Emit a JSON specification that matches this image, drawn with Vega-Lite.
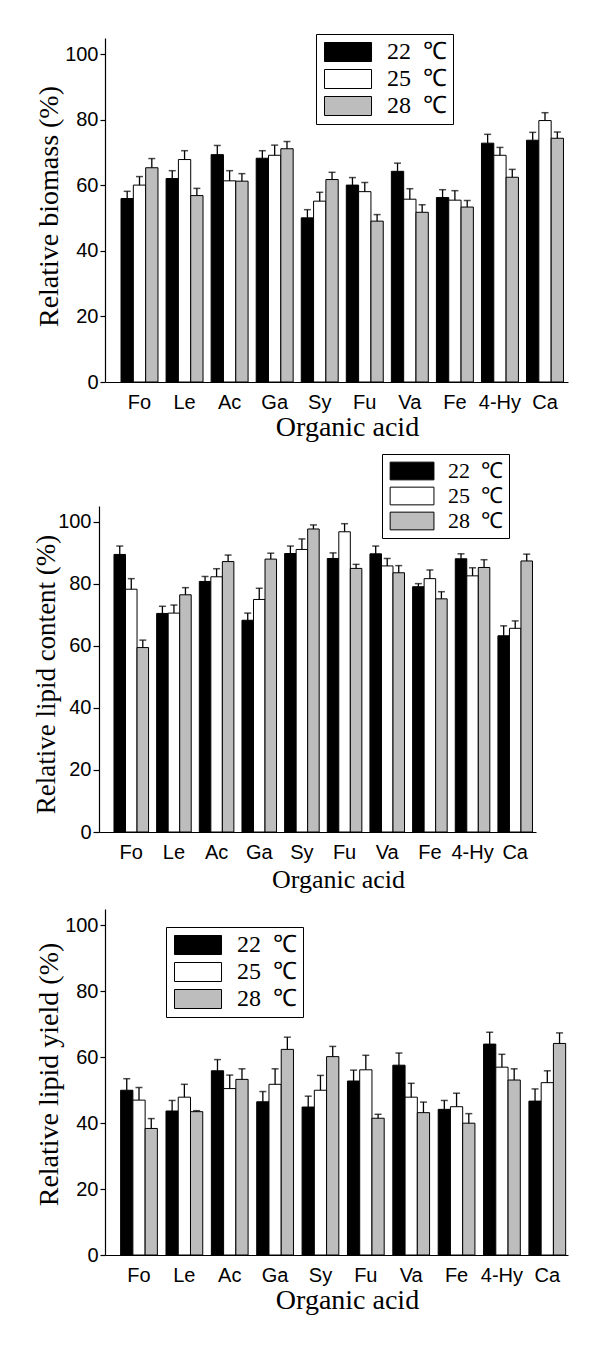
{
  "$schema": "https://vega.github.io/schema/vega-lite/v6.json",
  "padding": {"left": 32, "top": 33, "right": 5, "bottom": 5},
  "background": "white",
  "config": {
    "view": {"stroke": null},
    "axis": {"grid": false, "domainColor": "black", "domainWidth": 1.2, "tickColor": "black", "tickWidth": 1.2, "labelColor": "black", "titleColor": "black", "labelFont": "Liberation Sans", "labelFontSize": 20, "titleFont": "Liberation Serif", "titleFontWeight": "normal", "labelFlush": false, "labelOverlap": false},
    "legend": {"symbolStrokeColor": "black", "symbolStrokeWidth": 1, "symbolOpacity": 1, "labelFont": "Liberation Serif", "labelColor": "black", "strokeColor": "black", "fillColor": "white", "cornerRadius": 0}
  },
  "datasets": {
    "biomass": [
      {"acid": "Fo", "temp": "22", "value": 56.0, "upper": 58.2},
      {"acid": "Fo", "temp": "25", "value": 60.1, "upper": 62.7},
      {"acid": "Fo", "temp": "28", "value": 65.4, "upper": 68.2},
      {"acid": "Le", "temp": "22", "value": 62.1, "upper": 64.5},
      {"acid": "Le", "temp": "25", "value": 67.9, "upper": 70.6},
      {"acid": "Le", "temp": "28", "value": 56.9, "upper": 59.1},
      {"acid": "Ac", "temp": "22", "value": 69.4, "upper": 72.2},
      {"acid": "Ac", "temp": "25", "value": 61.4, "upper": 64.5},
      {"acid": "Ac", "temp": "28", "value": 61.3, "upper": 63.6},
      {"acid": "Ga", "temp": "22", "value": 68.3, "upper": 70.6},
      {"acid": "Ga", "temp": "25", "value": 69.2, "upper": 72.3},
      {"acid": "Ga", "temp": "28", "value": 71.2, "upper": 73.4},
      {"acid": "Sy", "temp": "22", "value": 50.1, "upper": 52.6},
      {"acid": "Sy", "temp": "25", "value": 55.2, "upper": 57.9},
      {"acid": "Sy", "temp": "28", "value": 61.8, "upper": 64.0},
      {"acid": "Fu", "temp": "22", "value": 60.1, "upper": 62.4},
      {"acid": "Fu", "temp": "25", "value": 58.1, "upper": 60.9},
      {"acid": "Fu", "temp": "28", "value": 49.1, "upper": 51.1},
      {"acid": "Va", "temp": "22", "value": 64.3, "upper": 66.8},
      {"acid": "Va", "temp": "25", "value": 55.8, "upper": 59.0},
      {"acid": "Va", "temp": "28", "value": 51.8, "upper": 54.1},
      {"acid": "Fe", "temp": "22", "value": 56.3, "upper": 58.7},
      {"acid": "Fe", "temp": "25", "value": 55.5, "upper": 58.4},
      {"acid": "Fe", "temp": "28", "value": 53.4, "upper": 55.4},
      {"acid": "4-Hy", "temp": "22", "value": 72.9, "upper": 75.6},
      {"acid": "4-Hy", "temp": "25", "value": 69.2, "upper": 71.6},
      {"acid": "4-Hy", "temp": "28", "value": 62.5, "upper": 64.9},
      {"acid": "Ca", "temp": "22", "value": 73.8, "upper": 76.2},
      {"acid": "Ca", "temp": "25", "value": 79.8, "upper": 82.2},
      {"acid": "Ca", "temp": "28", "value": 74.4, "upper": 76.3}
    ],
    "content": [
      {"acid": "Fo", "temp": "22", "value": 89.4, "upper": 92.1},
      {"acid": "Fo", "temp": "25", "value": 78.2, "upper": 81.6},
      {"acid": "Fo", "temp": "28", "value": 59.4, "upper": 61.8},
      {"acid": "Le", "temp": "22", "value": 70.4, "upper": 72.7},
      {"acid": "Le", "temp": "25", "value": 70.5, "upper": 73.1},
      {"acid": "Le", "temp": "28", "value": 76.4, "upper": 78.7},
      {"acid": "Ac", "temp": "22", "value": 80.7, "upper": 82.3},
      {"acid": "Ac", "temp": "25", "value": 82.2, "upper": 84.8},
      {"acid": "Ac", "temp": "28", "value": 87.1, "upper": 89.2},
      {"acid": "Ga", "temp": "22", "value": 68.2, "upper": 70.5},
      {"acid": "Ga", "temp": "25", "value": 74.9, "upper": 78.5},
      {"acid": "Ga", "temp": "28", "value": 87.9, "upper": 89.8},
      {"acid": "Sy", "temp": "22", "value": 89.7, "upper": 92.1},
      {"acid": "Sy", "temp": "25", "value": 91.0, "upper": 94.4},
      {"acid": "Sy", "temp": "28", "value": 97.6, "upper": 98.9},
      {"acid": "Fu", "temp": "22", "value": 88.1, "upper": 89.9},
      {"acid": "Fu", "temp": "25", "value": 96.7, "upper": 99.3},
      {"acid": "Fu", "temp": "28", "value": 84.9, "upper": 86.2},
      {"acid": "Va", "temp": "22", "value": 89.6, "upper": 92.1},
      {"acid": "Va", "temp": "25", "value": 85.7, "upper": 88.1},
      {"acid": "Va", "temp": "28", "value": 83.5, "upper": 85.8},
      {"acid": "Fe", "temp": "22", "value": 79.0, "upper": 80.0},
      {"acid": "Fe", "temp": "25", "value": 81.6, "upper": 84.4},
      {"acid": "Fe", "temp": "28", "value": 75.1, "upper": 77.4},
      {"acid": "4-Hy", "temp": "22", "value": 88.0, "upper": 89.6},
      {"acid": "4-Hy", "temp": "25", "value": 82.5, "upper": 85.1},
      {"acid": "4-Hy", "temp": "28", "value": 85.2, "upper": 87.7},
      {"acid": "Ca", "temp": "22", "value": 63.2, "upper": 66.4},
      {"acid": "Ca", "temp": "25", "value": 65.6, "upper": 68.0},
      {"acid": "Ca", "temp": "28", "value": 87.3, "upper": 89.5}
    ],
    "yield": [
      {"acid": "Fo", "temp": "22", "value": 50.0, "upper": 53.5},
      {"acid": "Fo", "temp": "25", "value": 47.0, "upper": 50.8},
      {"acid": "Fo", "temp": "28", "value": 38.4, "upper": 41.4},
      {"acid": "Le", "temp": "22", "value": 43.7, "upper": 46.9},
      {"acid": "Le", "temp": "25", "value": 47.9, "upper": 51.8},
      {"acid": "Le", "temp": "28", "value": 43.5, "upper": 43.8},
      {"acid": "Ac", "temp": "22", "value": 55.9, "upper": 59.3},
      {"acid": "Ac", "temp": "25", "value": 50.5, "upper": 54.6},
      {"acid": "Ac", "temp": "28", "value": 53.3, "upper": 56.5},
      {"acid": "Ga", "temp": "22", "value": 46.5, "upper": 49.6},
      {"acid": "Ga", "temp": "25", "value": 51.8, "upper": 56.5},
      {"acid": "Ga", "temp": "28", "value": 62.4, "upper": 66.1},
      {"acid": "Sy", "temp": "22", "value": 44.9, "upper": 48.2},
      {"acid": "Sy", "temp": "25", "value": 50.0, "upper": 54.5},
      {"acid": "Sy", "temp": "28", "value": 60.2, "upper": 63.3},
      {"acid": "Fu", "temp": "22", "value": 52.8, "upper": 56.1},
      {"acid": "Fu", "temp": "25", "value": 56.2, "upper": 60.6},
      {"acid": "Fu", "temp": "28", "value": 41.5, "upper": 42.7},
      {"acid": "Va", "temp": "22", "value": 57.6, "upper": 61.3},
      {"acid": "Va", "temp": "25", "value": 47.9, "upper": 52.1},
      {"acid": "Va", "temp": "28", "value": 43.2, "upper": 46.4},
      {"acid": "Fe", "temp": "22", "value": 44.2, "upper": 46.9},
      {"acid": "Fe", "temp": "25", "value": 45.0, "upper": 49.1},
      {"acid": "Fe", "temp": "28", "value": 40.0, "upper": 42.9},
      {"acid": "4-Hy", "temp": "22", "value": 64.0, "upper": 67.6},
      {"acid": "4-Hy", "temp": "25", "value": 57.0, "upper": 60.9},
      {"acid": "4-Hy", "temp": "28", "value": 53.1, "upper": 56.5},
      {"acid": "Ca", "temp": "22", "value": 46.7, "upper": 50.4},
      {"acid": "Ca", "temp": "25", "value": 52.3, "upper": 55.9},
      {"acid": "Ca", "temp": "28", "value": 64.2, "upper": 67.4}
    ]
  },
  "spacing": 12,
  "resolve": {"scale": {"fill": "independent", "x": "independent", "y": "independent", "xOffset": "independent"}, "legend": {"fill": "independent"}},
  "vconcat": [
    {
      "data": {"name": "biomass"},
      "width": 463,
      "height": 344,
      "encoding": {
        "x": {"field": "acid", "type": "nominal", "sort": null, "scale": {"paddingInner": 0.18, "paddingOuter": 0.228, "align": 0.78}, "axis": {"title": "Organic acid", "ticks": false, "tickSize": 0, "labelPadding": 10, "labelAngle": 0, "titleFontSize": 28, "titlePadding": 1, "titleX": 242}},
        "xOffset": {"field": "temp", "type": "nominal", "scale": {"paddingInner": 0, "paddingOuter": 0}}
      },
      "layer": [
        {
          "mark": {"type": "bar", "stroke": "black", "strokeWidth": 1},
          "encoding": {
            "y": {"field": "value", "type": "quantitative", "scale": {"domain": [0, 105], "nice": false}, "axis": {"title": "Relative biomass (%)", "values": [0, 10, 20, 30, 40, 50, 60, 70, 80, 90, 100], "labelExpr": "datum.value % 20 === 0 ? datum.label : ''", "tickSize": 5, "labelPadding": 2, "titleFontSize": 28, "titlePadding": 1, "titleY": 168}},
            "fill": {"field": "temp", "type": "nominal", "scale": {"domain": ["22", "25", "28"], "range": ["black", "white", "#bdbdbd"]}, "legend": {"title": null, "orient": "none", "legendX": 211, "legendY": -4, "symbolType": "M-1,-1H3.95V1H-1Z", "symbolSize": 361, "labelFont": "Liberation Serif", "labelFontSize": 24, "labelOffset": 41, "labelExpr": "datum.label + '\u00a0\u00a0℃'", "rowPadding": 3, "padding": 6}}
          }
        },
        {
          "mark": {"type": "rule", "color": "black", "strokeWidth": 1.3},
          "encoding": {"y": {"field": "value", "type": "quantitative"}, "y2": {"field": "upper"}}
        },
        {
          "mark": {"type": "tick", "color": "black", "orient": "horizontal", "size": 7, "thickness": 1.5},
          "encoding": {"y": {"field": "upper", "type": "quantitative"}}
        }
      ]
    },
    {
      "spacing": 17,
      "resolve": {"scale": {"fill": "independent", "x": "independent", "y": "independent", "xOffset": "independent"}, "legend": {"fill": "independent"}},
      "vconcat": [
        {
          "data": {"name": "content"},
          "width": 431,
          "height": 326,
          "encoding": {
            "x": {"field": "acid", "type": "nominal", "sort": null, "scale": {"range": [-6, 431], "paddingInner": 0.19, "paddingOuter": 0.217, "align": 0.81}, "axis": {"title": "Organic acid", "ticks": false, "tickSize": 0, "labelPadding": 10, "labelAngle": 0, "titleFontSize": 26, "titlePadding": 4, "titleX": 233}},
            "xOffset": {"field": "temp", "type": "nominal", "scale": {"paddingInner": 0, "paddingOuter": 0}}
          },
          "layer": [
            {
              "mark": {"type": "bar", "stroke": "black", "strokeWidth": 1},
              "encoding": {
                "y": {"field": "value", "type": "quantitative", "scale": {"domain": [0, 105], "nice": false}, "axis": {"title": "Relative lipid content (%)", "offset": 6, "values": [0, 10, 20, 30, 40, 50, 60, 70, 80, 90, 100], "labelExpr": "datum.value % 20 === 0 ? datum.label : ''", "tickSize": 6, "labelPadding": 2, "titleFontSize": 27, "titlePadding": -3, "titleY": 168}},
                "fill": {"field": "temp", "type": "nominal", "scale": {"domain": ["22", "25", "28"], "range": ["black", "white", "#bdbdbd"]}, "legend": {"title": null, "orient": "none", "legendX": 277, "legendY": -52, "symbolType": "M-1,-1H3.95V1H-1Z", "symbolSize": 313, "labelFont": "Liberation Serif", "labelFontSize": 22, "labelOffset": 38, "labelExpr": "datum.label + '\u00a0\u00a0℃'", "rowPadding": 3, "padding": 6}}
              }
            },
            {
              "mark": {"type": "rule", "color": "black", "strokeWidth": 1.3},
              "encoding": {"y": {"field": "value", "type": "quantitative"}, "y2": {"field": "upper"}}
            },
            {
              "mark": {"type": "tick", "color": "black", "orient": "horizontal", "size": 7, "thickness": 1.5},
              "encoding": {"y": {"field": "upper", "type": "quantitative"}}
            }
          ]
        },
        {
          "data": {"name": "yield"},
          "width": 463,
          "height": 346,
          "encoding": {
            "x": {"field": "acid", "type": "nominal", "sort": null, "scale": {"paddingInner": 0.19, "paddingOuter": 0.198, "align": 0.87}, "axis": {"title": "Organic acid", "ticks": false, "tickSize": 0, "labelPadding": 10, "labelAngle": 0, "titleFontSize": 28, "titlePadding": 1, "titleX": 242}},
            "xOffset": {"field": "temp", "type": "nominal", "scale": {"paddingInner": 0, "paddingOuter": 0}}
          },
          "layer": [
            {
              "mark": {"type": "bar", "stroke": "black", "strokeWidth": 1},
              "encoding": {
                "y": {"field": "value", "type": "quantitative", "scale": {"domain": [0, 105], "nice": false}, "axis": {"title": "Relative lipid yield (%)", "values": [0, 10, 20, 30, 40, 50, 60, 70, 80, 90, 100], "labelExpr": "datum.value % 20 === 0 ? datum.label : ''", "tickSize": 5, "labelPadding": 2, "titleFontSize": 28, "titlePadding": 1, "titleY": 165}},
                "fill": {"field": "temp", "type": "nominal", "scale": {"domain": ["22", "25", "28"], "range": ["black", "white", "#bdbdbd"]}, "legend": {"title": null, "orient": "none", "legendX": 61, "legendY": 18, "symbolType": "M-1,-1H3.95V1H-1Z", "symbolSize": 361, "labelFont": "Liberation Serif", "labelFontSize": 24, "labelOffset": 41, "labelExpr": "datum.label + '\u00a0\u00a0℃'", "rowPadding": 3, "padding": 6}}
              }
            },
            {
              "mark": {"type": "rule", "color": "black", "strokeWidth": 1.3},
              "encoding": {"y": {"field": "value", "type": "quantitative"}, "y2": {"field": "upper"}}
            },
            {
              "mark": {"type": "tick", "color": "black", "orient": "horizontal", "size": 7, "thickness": 1.5},
              "encoding": {"y": {"field": "upper", "type": "quantitative"}}
            }
          ]
        }
      ]
    }
  ]
}
